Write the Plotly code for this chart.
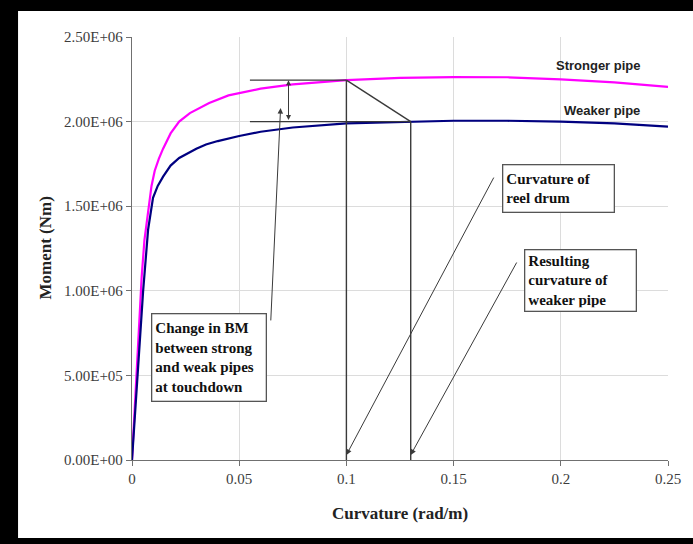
import plotly.graph_objects as go

# ---- data ----
strong_x = [0, 0.0045, 0.0058, 0.0075, 0.0091, 0.0106, 0.0125, 0.0145, 0.018, 0.022,
            0.027, 0.036, 0.045, 0.060, 0.075, 0.100, 0.125, 0.150, 0.175, 0.200,
            0.225, 0.250]
strong_m = [0, 1.08e6, 1.30e6, 1.48e6, 1.62e6, 1.71e6, 1.78e6, 1.84e6, 1.93e6, 2.00e6,
            2.05e6, 2.11e6, 2.155e6, 2.195e6, 2.22e6, 2.245e6, 2.258e6, 2.263e6, 2.262e6, 2.25e6,
            2.232e6, 2.205e6]

weak_x = [0, 0.0052, 0.0075, 0.0098, 0.0120, 0.0145, 0.018, 0.022, 0.030, 0.0345,
          0.040, 0.050, 0.060, 0.075, 0.100, 0.130, 0.150, 0.175, 0.200, 0.225, 0.250]
weak_m = [0, 1.00e6, 1.36e6, 1.55e6, 1.62e6, 1.675e6, 1.74e6, 1.785e6, 1.84e6, 1.865e6,
          1.885e6, 1.915e6, 1.94e6, 1.965e6, 1.99e6, 2.00e6, 2.005e6, 2.005e6, 2.00e6, 1.99e6, 1.97e6]

y_tickvals = [0, 5e5, 1e6, 1.5e6, 2e6, 2.5e6]
y_ticktext = ["0.00E+00", "5.00E+05", "1.00E+06", "1.50E+06", "2.00E+06", "2.50E+06"]
x_tickvals = [0, 0.05, 0.1, 0.15, 0.2, 0.25]
x_ticktext = ["0", "0.05", "0.1", "0.15", "0.2", "0.25"]

# construction values
reel_curv = 0.10          # curvature of reel drum
weak_curv = 0.13          # resulting curvature of weaker pipe
m_touch_strong = 2.245e6  # BM of stronger pipe at touchdown
m_touch_weak = 2.00e6     # BM of weaker pipe at touchdown
ref_line_start = 0.055

serif = "Liberation Serif, Times New Roman, serif"
sans = "Liberation Sans, Arial, sans-serif"
ink = "#3a3a3a"

fig = go.Figure()
fig.add_trace(go.Scatter(x=strong_x, y=strong_m, mode="lines", name="Stronger pipe",
                         line=dict(color="#ff00ff", width=2.2)))
fig.add_trace(go.Scatter(x=weak_x, y=weak_m, mode="lines", name="Weaker pipe",
                         line=dict(color="#000080", width=2.2)))

shapes = [
    # black frame: white page inside a black paper
    dict(type="rect", xref="paper", yref="paper", x0=-0.2126, x1=1.06, y0=-0.1844, y1=1.0615,
         fillcolor="white", line=dict(width=0), layer="below"),
    # horizontal reference lines
    dict(type="line", xref="x", yref="y", x0=ref_line_start, x1=reel_curv,
         y0=m_touch_strong, y1=m_touch_strong, line=dict(color=ink, width=1.4)),
    dict(type="line", xref="x", yref="y", x0=ref_line_start, x1=weak_curv,
         y0=m_touch_weak, y1=m_touch_weak, line=dict(color=ink, width=1.4)),
    # vertical drop lines
    dict(type="line", xref="x", yref="y", x0=reel_curv, x1=reel_curv,
         y0=0, y1=m_touch_strong, line=dict(color=ink, width=1.4)),
    dict(type="line", xref="x", yref="y", x0=weak_curv, x1=weak_curv,
         y0=0, y1=m_touch_weak, line=dict(color=ink, width=1.4)),
    # diagonal
    dict(type="line", xref="x", yref="y", x0=reel_curv, x1=weak_curv,
         y0=m_touch_strong, y1=m_touch_weak, line=dict(color=ink, width=1.4)),
]

box_font = dict(family=serif, size=15, color="#111111")
annotations = [
    # double arrow
    dict(x=0.073, y=m_touch_strong, ax=0.073, ay=m_touch_weak, xref="x", yref="y",
         axref="x", ayref="y", showarrow=True, arrowhead=2, startarrowhead=2,
         arrowside="end+start", arrowsize=1, arrowwidth=1, arrowcolor=ink, text=""),
    # arrow from BM box
    dict(x=0.0693, y=2.08e6, ax=0.0647, ay=0.816e6, xref="x", yref="y",
         axref="x", ayref="y", showarrow=True, arrowhead=2, arrowsize=1.1,
         arrowwidth=1, arrowcolor=ink, text=""),
    # arrow to reel curvature
    dict(x=reel_curv, y=0.03e6, ax=0.1691, ay=1.678e6, xref="x", yref="y",
         axref="x", ayref="y", showarrow=True, arrowhead=2, arrowsize=1.1,
         arrowwidth=1, arrowcolor=ink, text=""),
    # arrow to weak curvature
    dict(x=weak_curv, y=0.03e6, ax=0.1798, ay=1.176e6, xref="x", yref="y",
         axref="x", ayref="y", showarrow=True, arrowhead=2, arrowsize=1.1,
         arrowwidth=1, arrowcolor=ink, text=""),
    # text boxes
    dict(x=0.00878, y=0.869e6, xref="x", yref="y", xanchor="left", yanchor="top",
         text="<b>Change in BM<br>between strong<br>and weak pipes<br>at touchdown</b>",
         align="left", showarrow=False, font=box_font, bgcolor="white",
         bordercolor="#555555", borderwidth=1.3, borderpad=3, width=107, height=80),
    dict(x=0.1724, y=1.749e6, xref="x", yref="y", xanchor="left", yanchor="top",
         text="<b>Curvature of<br>reel drum</b>",
         align="left", showarrow=False, font=box_font, bgcolor="white",
         bordercolor="#555555", borderwidth=1.3, borderpad=3, width=104, height=40),
    dict(x=0.183, y=1.247e6, xref="x", yref="y", xanchor="left", yanchor="top",
         text="<b>Resulting<br>curvature of<br>weaker pipe</b>",
         align="left", showarrow=False, font=box_font, bgcolor="white",
         bordercolor="#555555", borderwidth=1.3, borderpad=3, width=104, height=54),
    # curve labels
    dict(x=0.2177, y=2.329e6, xref="x", yref="y", text="<b>Stronger pipe</b>",
         showarrow=False, font=dict(family=sans, size=13, color="#222222")),
    dict(x=0.219, y=2.063e6, xref="x", yref="y", text="<b>Weaker pipe</b>",
         showarrow=False, font=dict(family=sans, size=13, color="#222222")),
    # axis titles
    dict(x=0.5, y=0, xref="paper", yref="paper", yshift=-53, yanchor="middle",
         text="<b>Curvature (rad/m)</b>", showarrow=False,
         font=dict(family=serif, size=17, color="#222222")),
    dict(x=0, y=0.5, xref="paper", yref="paper", xshift=-87, xanchor="center",
         text="<b>Moment (Nm)</b>", textangle=-90, showarrow=False,
         font=dict(family=serif, size=17, color="#222222")),
]

fig.update_layout(
    width=693, height=544,
    margin=dict(l=132, r=20, t=37, b=84),
    paper_bgcolor="black", plot_bgcolor="white",
    showlegend=False,
    shapes=shapes, annotations=annotations,
    xaxis=dict(range=[0, 0.25], tickvals=x_tickvals, ticktext=x_ticktext,
               showgrid=True, gridcolor="#dcdcdc", gridwidth=1,
               showline=True, linecolor="#707070", linewidth=1.3,
               ticks="outside", ticklen=5, tickcolor="#707070",
               tickfont=dict(family=serif, size=15, color="#3c3c3c"),
               zeroline=False, fixedrange=True),
    yaxis=dict(range=[0, 2.5e6], tickvals=y_tickvals, ticktext=y_ticktext,
               showgrid=True, gridcolor="#dcdcdc", gridwidth=1,
               showline=True, linecolor="#707070", linewidth=1.3,
               ticks="outside", ticklen=5, tickcolor="#707070",
               tickfont=dict(family=serif, size=15, color="#3c3c3c"),
               zeroline=False, fixedrange=True),
)

fig.write_html("out.html", config={"displayModeBar": False},
               post_script="document.body.style.margin='0';document.body.style.overflow='hidden';")
